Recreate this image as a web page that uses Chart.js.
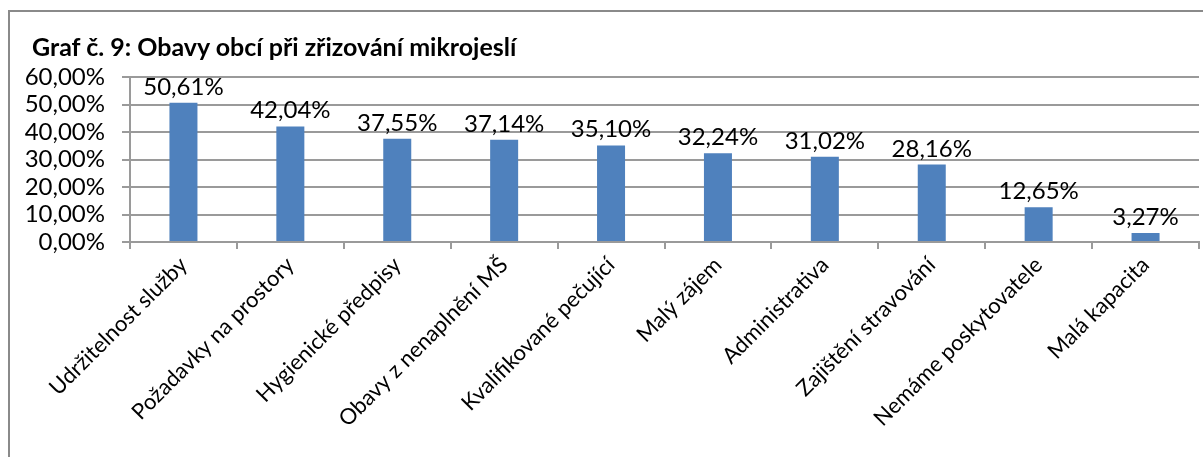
<!DOCTYPE html>
<html lang="cs">
<head>
<meta charset="utf-8">
<title>Graf č. 9</title>
<script src="https://cdn.jsdelivr.net/npm/chart.js@4.4.1/dist/chart.umd.min.js"></script>
<style>
  html, body { margin: 0; padding: 0; background: #fff; }
  #wrap { position: relative; width: 1203px; height: 457px; overflow: hidden; }
  #frame {
    position: absolute; left: 8px; top: 10px; width: 1300px; height: 600px;
    border-left: 2px solid #8a8a8a; border-top: 2px solid #8a8a8a;
  }
  #title {
    position: absolute; left: 32px; top: 31px;
    font: bold 25px/30px Lato, "Open Sans", sans-serif; color: #000;
    white-space: nowrap;
  }
  #chart { position: absolute; left: 0; top: 0; }
</style>
</head>
<body>
<div id="wrap">
  <div id="frame"></div>
  <canvas id="chart" width="1203" height="457"></canvas>
  <div id="title">Graf č. 9: Obavy obcí při zřizování mikrojeslí</div>
</div>
<script>
// Data
const categories = [
  "Udržitelnost služby",
  "Požadavky na prostory",
  "Hygienické předpisy",
  "Obavy z nenaplnění MŠ",
  "Kvalifikované pečující",
  "Malý zájem",
  "Administrativa",
  "Zajištění stravování",
  "Nemáme poskytovatele",
  "Malá kapacita"
];
const shares = [50.61, 42.04, 37.55, 37.14, 35.10, 32.24, 31.02, 28.16, 12.65, 3.27];
const yTicks = [0, 10, 20, 30, 40, 50, 60];

const fmt = v => v.toFixed(2).replace(".", ",") + "%";
const FONT = "Lato, 'Open Sans', sans-serif";

// simple value labels above the bars
const barLabels = {
  id: "barLabels",
  afterDatasetsDraw(chart) {
    const ctx = chart.ctx;
    const meta = chart.getDatasetMeta(0);
    ctx.save();
    ctx.font = "24px " + FONT;
    ctx.fillStyle = "#000";
    ctx.textAlign = "center";
    ctx.textBaseline = "alphabetic";
    meta.data.forEach((bar, i) => {
      ctx.fillText(fmt(shares[i]), bar.x, bar.y - 8);
    });
    ctx.restore();
  }
};

const ctx = document.getElementById("chart").getContext("2d");
new Chart(ctx, {
  type: "bar",
  data: {
    labels: categories,
    datasets: [{
      label: "Obavy",
      data: shares,
      backgroundColor: "#4F81BD",
      borderWidth: 0,
      categoryPercentage: 1,
      barPercentage: 0.262
    }]
  },
  options: {
    responsive: false,
    animation: false,
    layout: { padding: { left: 14, top: 77, right: 4, bottom: 0 } },
    scales: {
      x: {
        grid: {
          display: true,
          drawOnChartArea: false,
          drawTicks: true,
          tickLength: 7,
          color: "#9a9a9a",
          lineWidth: 2,
          offset: true
        },
        border: { color: "#9a9a9a", width: 2 },
        ticks: {
          color: "#000",
          font: { family: FONT, size: 22 },
          minRotation: 45,
          maxRotation: 45,
          autoSkip: false,
          padding: 3
        },
        afterFit(scale) { scale.height = 215; }
      },
      y: {
        min: 0,
        max: 60,
        afterBuildTicks(scale) { scale.ticks = yTicks.map(v => ({ value: v })); },
        grid: { color: "#9a9a9a", lineWidth: 2, tickLength: 8 },
        border: { color: "#9a9a9a", width: 2 },
        ticks: {
          color: "#000",
          font: { family: FONT, size: 24 },
          padding: 17,
          autoSkip: false,
          callback: v => fmt(v)
        },
        afterFit(scale) { scale.width = 116; }
      }
    },
    plugins: {
      legend: { display: false },
      tooltip: { enabled: false },
      title: { display: false }
    }
  },
  plugins: [barLabels]
});
</script>
</body>
</html>
